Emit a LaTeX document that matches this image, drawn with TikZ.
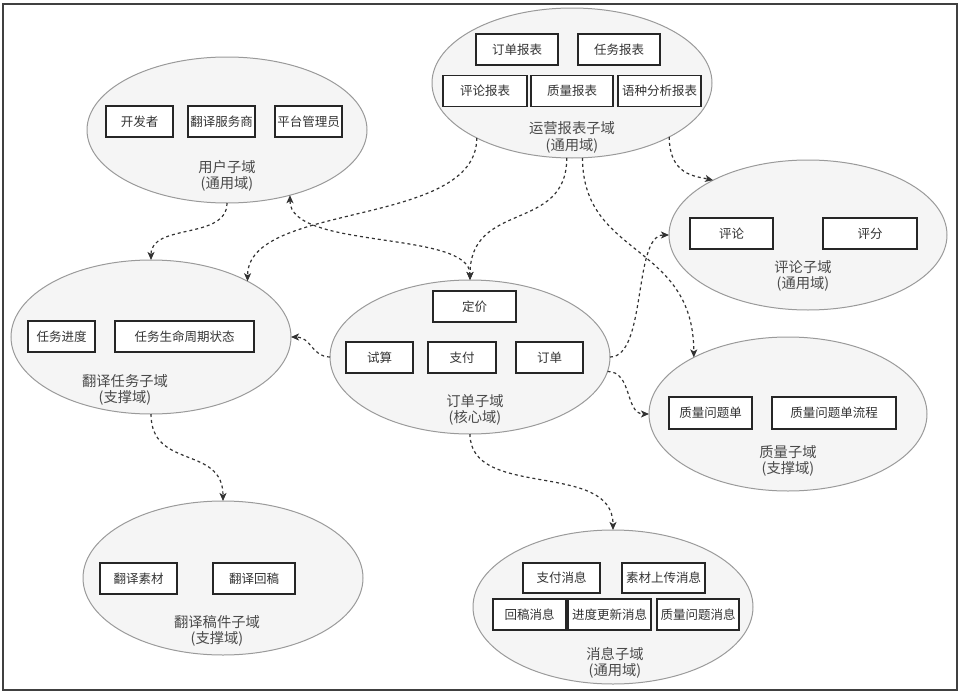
\documentclass[tikz,border=0pt]{standalone}
\usepackage{fontspec}
\newfontfamily\cjk{Noto Sans CJK SC}
\usetikzlibrary{shapes.geometric,arrows.meta}
\definecolor{ellfill}{HTML}{F5F5F5}
\definecolor{ellline}{HTML}{9A9A9A}
\definecolor{lbl}{HTML}{4A4A4A}
\definecolor{boxtxt}{HTML}{333333}
\definecolor{conn}{HTML}{333333}
\tikzset{
  dom/.style={ellipse, draw=ellline, fill=ellfill, line width=1pt, inner sep=0pt, outer sep=0pt},
  item/.style={draw=black!85, fill=white, line width=1.3pt, inner sep=0pt, minimum height=31pt,
    text=boxtxt, font=\cjk\fontsize{12.5}{14}\selectfont},
  dlabel/.style={align=center, text=lbl, font=\cjk\fontsize{14.3}{16.5}\selectfont, inner sep=0pt},
  link/.style={draw=conn, line width=1.2pt, dash pattern=on 3pt off 3pt,
    -{Stealth[length=8pt,width=7pt,inset=2pt]}},
  biglink/.style={draw=conn, line width=1.2pt, dash pattern=on 3pt off 3pt,
    {Stealth[length=8pt,width=7pt,inset=2pt]}-{Stealth[length=8pt,width=7pt,inset=2pt]}}
}
\begin{document}
\begin{tikzpicture}[x=1pt,y=-1pt]
\useasboundingbox (0,0) rectangle (962,696);
\draw[line width=1.4pt, draw=black!75] (3,4) rectangle (957,690);

% ellipses
\node[dom, minimum width=280pt, minimum height=150pt] (yy) at (572,83) {};
\node[dom, minimum width=280pt, minimum height=146pt] (yh) at (227,130) {};
\node[dom, minimum width=280pt, minimum height=154pt] (rw) at (151,337) {};
\node[dom, minimum width=280pt, minimum height=154pt] (dd) at (470,357) {};
\node[dom, minimum width=278pt, minimum height=150pt] (pl) at (808,235) {};
\node[dom, minimum width=278pt, minimum height=154pt] (zl) at (788,414) {};
\node[dom, minimum width=280pt, minimum height=154pt] (gj) at (223,578) {};
\node[dom, minimum width=280pt, minimum height=154pt] (xx) at (613,607) {};

% 运营报表子域
\node[item, minimum width=82pt] (yy1) at (517,49.5) {订单报表};
\node[item, minimum width=82pt] (yy2) at (619,49.5) {任务报表};
\node[item, minimum width=84pt] (yy3) at (485,91) {评论报表};
\node[item, minimum width=82pt] (yy4) at (572,91) {质量报表};
\node[item, minimum width=83pt] (yy5) at (659.5,91) {语种分析报表};
\node[dlabel] (yyl) at (572,137.5) {运营报表子域\\(通用域)};

% 用户子域
\node[item, minimum width=67pt] (yh1) at (139.5,121.5) {开发者};
\node[item, minimum width=67pt] (yh2) at (221.5,121.5) {翻译服务商};
\node[item, minimum width=67pt] (yh3) at (308.5,121.5) {平台管理员};
\node[dlabel] (yhl) at (227,176) {用户子域\\(通用域)};

% 翻译任务子域
\node[item, minimum width=67pt] (rw1) at (61.5,336.5) {任务进度};
\node[item, minimum width=139pt] (rw2) at (184.5,336.5) {任务生命周期状态};
\node[dlabel] (rwl) at (125,390) {翻译任务子域\\(支撑域)};

% 订单子域
\node[item, minimum width=83pt] (dd1) at (474.5,306.5) {定价};
\node[item, minimum width=67pt] (dd2) at (379.5,357.5) {试算};
\node[item, minimum width=68pt] (dd3) at (462,357.5) {支付};
\node[item, minimum width=67pt] (dd4) at (549.5,357.5) {订单};
\node[dlabel] (ddl) at (475,410) {订单子域\\(核心域)};

% 评论子域
\node[item, minimum width=83pt] (pl1) at (731.5,233.5) {评论};
\node[item, minimum width=94pt] (pl2) at (870,233.5) {评分};
\node[dlabel] (pll) at (803,276) {评论子域\\(通用域)};

% 质量子域
\node[item, minimum width=83pt, minimum height=32pt] (zl1) at (710.5,413) {质量问题单};
\node[item, minimum width=124pt, minimum height=32pt] (zl2) at (834,413) {质量问题单流程};
\node[dlabel] (zll) at (788,461) {质量子域\\(支撑域)};

% 翻译稿件子域
\node[item, minimum width=77pt] (gj1) at (138.5,578.5) {翻译素材};
\node[item, minimum width=82pt] (gj2) at (254,578.5) {翻译回稿};
\node[dlabel] (gjl) at (217,631) {翻译稿件子域\\(支撑域)};

% 消息子域
\node[item, minimum width=77pt, minimum height=30pt] (xx1) at (561.5,578) {支付消息};
\node[item, minimum width=83pt, minimum height=30pt] (xx2) at (663.5,578) {素材上传消息};
\node[item, minimum width=73pt] (xx3) at (529.5,614.5) {回稿消息};
\node[item, minimum width=83pt] (xx4) at (609.5,614.5) {进度更新消息};
\node[item, minimum width=82pt] (xx5) at (698,614.5) {质量问题消息};
\node[dlabel] (xxl) at (615,663) {消息子域\\(通用域)};

% connectors
\draw[link] (yh.south) .. controls +(0,37) and +(0,-37) .. (rw.north);
\draw[link] (yy.210) .. controls +(0,90) and +(0,-80) .. (rw.30);
\draw[biglink] (yh.-46) .. controls +(0,55) and +(0,-50) .. (dd.north);
\draw[link] (yy.-94) .. controls +(0,75) and +(0,-80) .. (dd.north);
\draw[link] (yy.-82) .. controls +(0,100) and +(0,-115) .. (zl.149);
\draw[link] (yy.-29) .. controls +(0,38) and +(-18,-4) .. (pl.150);
\draw[link] (dd.east) .. controls +(37,0) and +(-36,0) .. (pl.west);
\draw[link] (dd.-6) .. controls +(25,0) and +(-24,0) .. (zl.west);
\draw[link] (dd.west) .. controls +(-18,0) and +(20,0) .. (rw.east);
\draw[link] (rw.south) .. controls +(0,56) and +(0,-56) .. (gj.north);
\draw[link] (dd.south) .. controls +(0,66) and +(0,-70) .. (xx.north);
\end{tikzpicture}
\end{document}
